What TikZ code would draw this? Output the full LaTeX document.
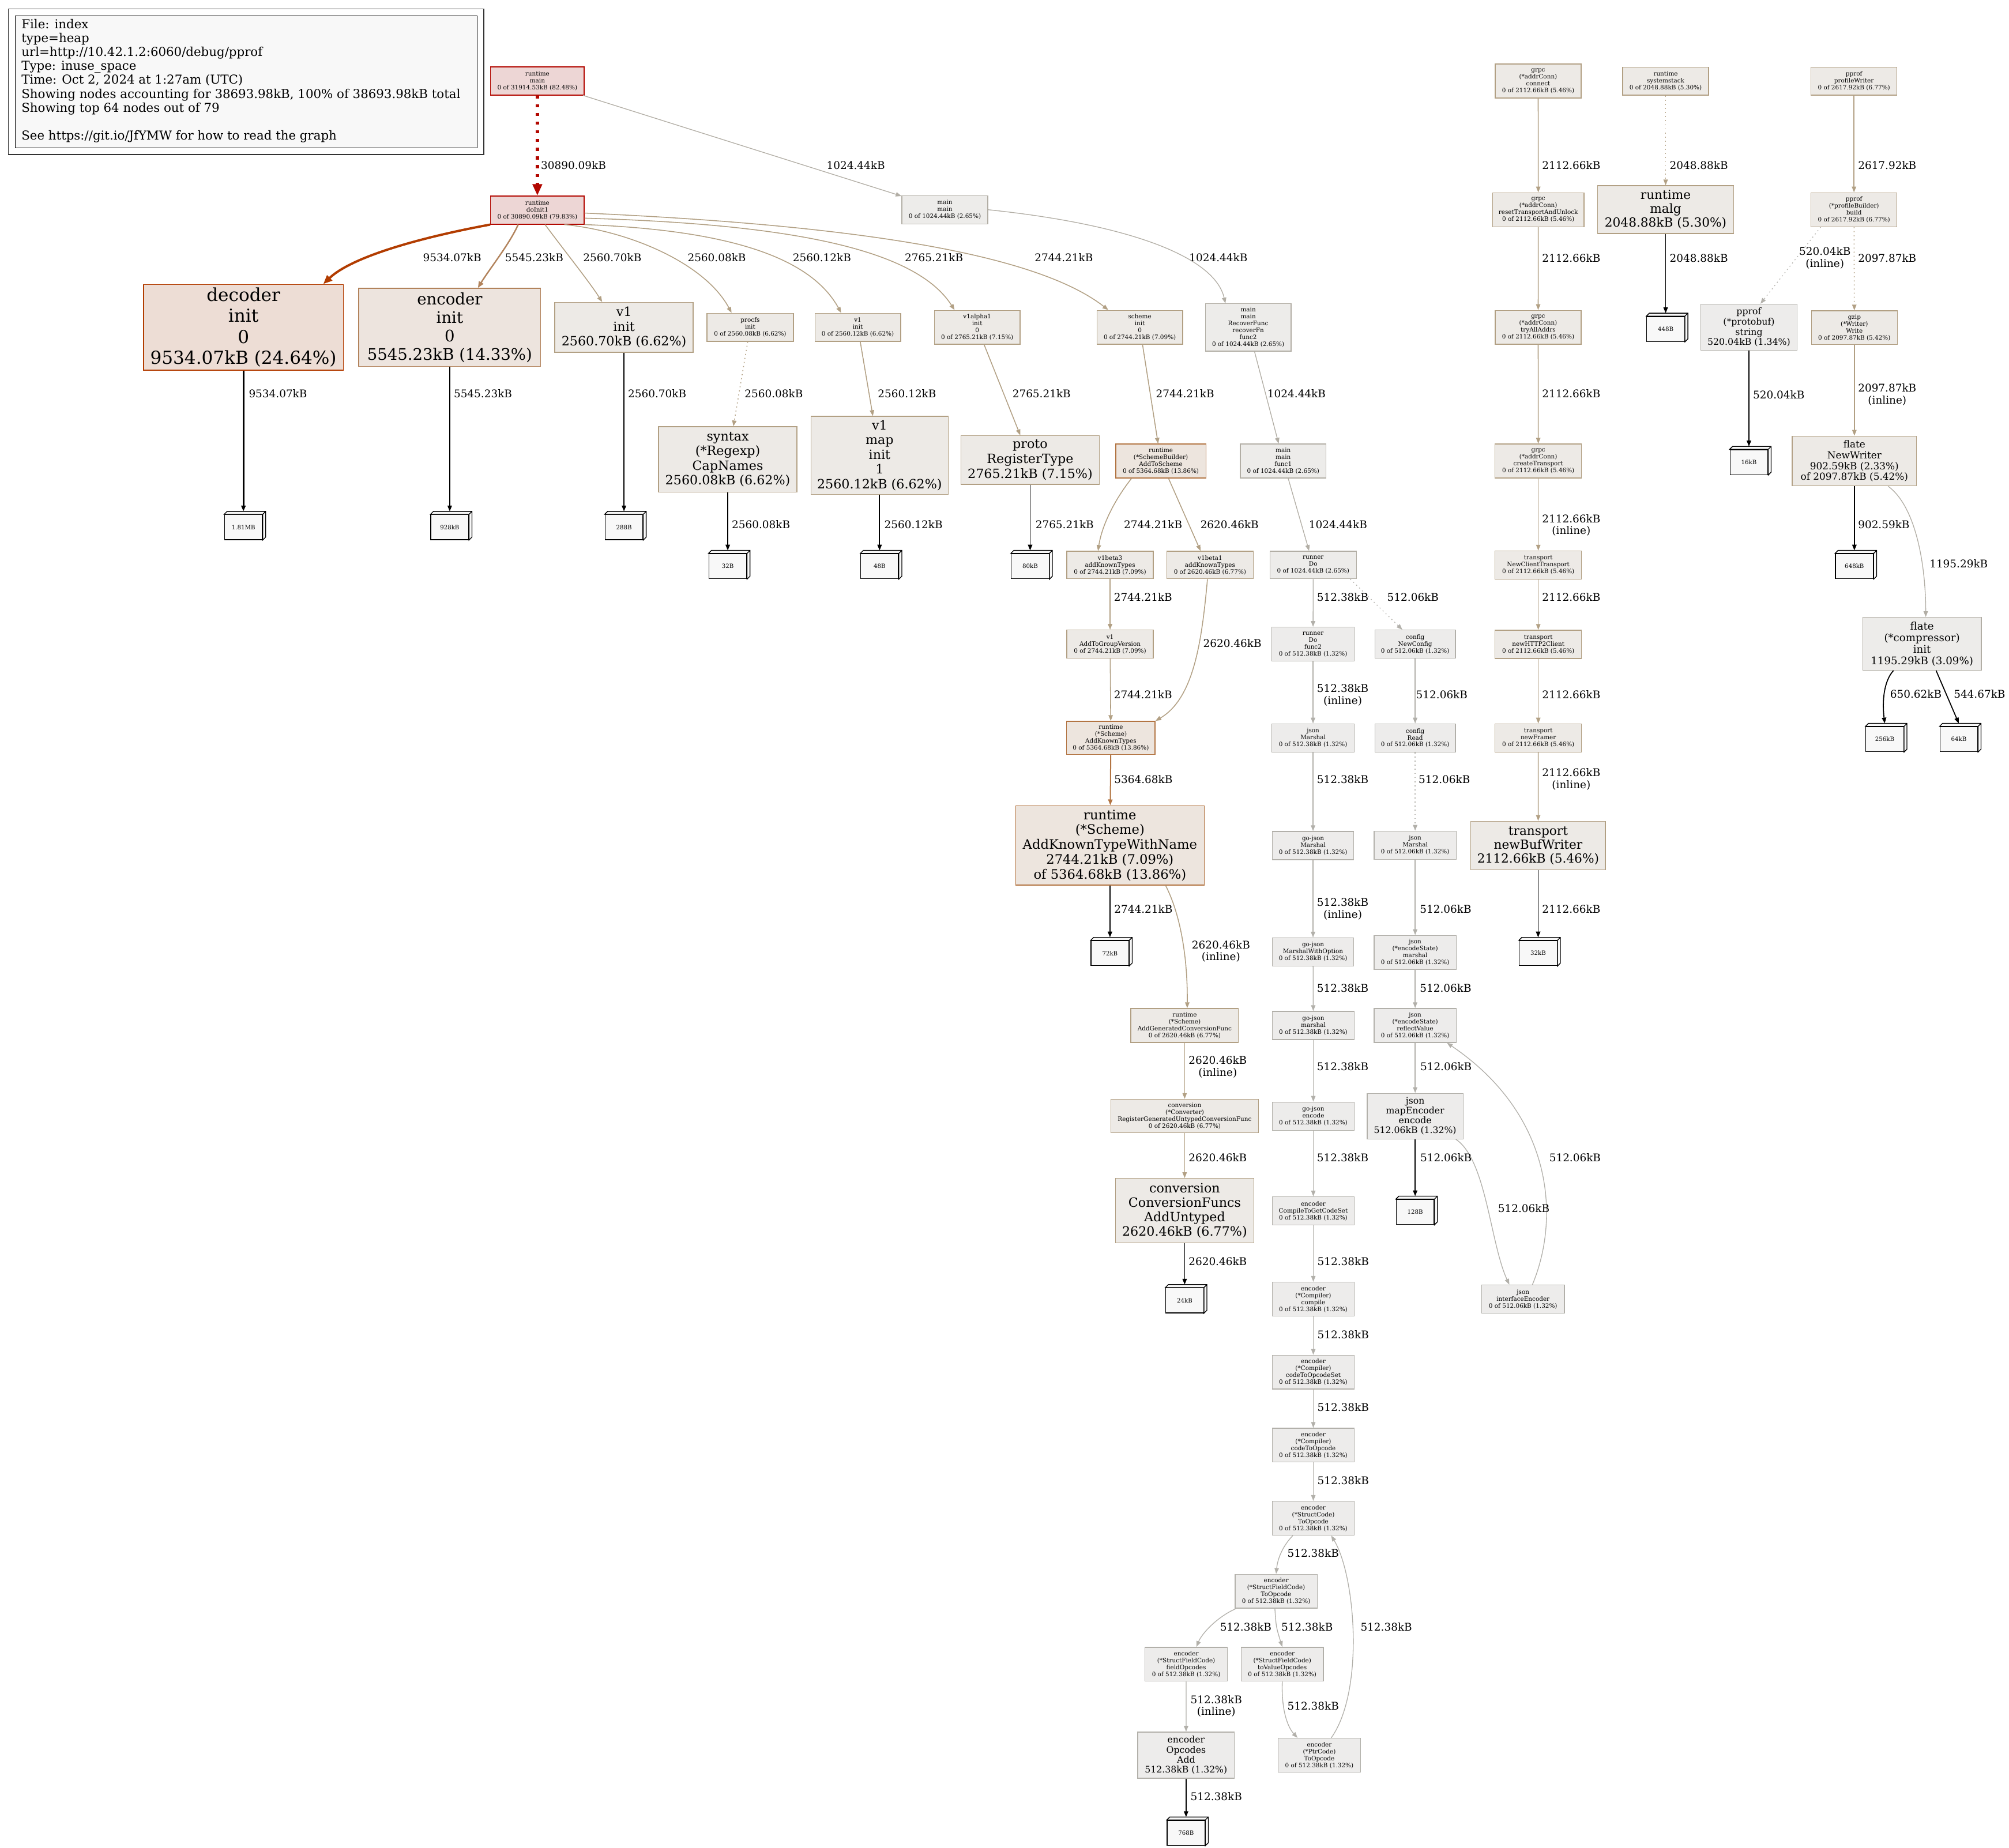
\documentclass[tikz,border=0pt]{standalone}
\usepackage{fontspec}
\setmainfont{DejaVu Serif}
\usepackage{tikz}
\usetikzlibrary{arrows.meta}
\definecolor{redline}{HTML}{B20700}
\definecolor{redfill}{HTML}{EDD6D5}
\definecolor{decline}{HTML}{B23C00}
\definecolor{decfill}{HTML}{EDDDD5}
\definecolor{encline}{HTML}{B2835C}
\definecolor{encfill}{HTML}{EDE4DE}
\definecolor{schline}{HTML}{B27442}
\definecolor{schfill}{HTML}{EDE5DE}
\definecolor{tanline}{HTML}{B2A084}
\definecolor{tanfill}{HTML}{EDEAE6}
\definecolor{lowline}{HTML}{B2AEA5}
\definecolor{lowfill}{HTML}{EDECEA}
\definecolor{grayline}{HTML}{B2B0AA}
\definecolor{grayfill}{HTML}{EDECEB}
\definecolor{leaffill}{HTML}{F8F8F8}
\newcommand{\fsz}[2]{\fontsize{#1}{#2}\selectfont}

\begin{document}
\begin{tikzpicture}[x=1pt, y=-1pt,
  fn/.style={draw, rectangle, align=center, inner sep=0pt, line width=0.6pt},
  sm/.style={fn, font=\fsz{4.7}{5.4}},
  s3/.style={sm, minimum width=67pt, minimum height=22pt},
  s4/.style={sm, minimum width=67pt, minimum height=26.5pt},
  big/.style={fn, font=\fsz{10}{11.5}, minimum width=108pt},
  md/.style={fn, font=\fsz{7.1}{7.9}, minimum width=75pt, minimum height=36pt},
  cred/.style={draw=redline, fill=redfill},
  cdec/.style={draw=decline, fill=decfill},
  cenc/.style={draw=encline, fill=encfill},
  csch/.style={draw=schline, fill=schfill},
  ctan/.style={draw=tanline, fill=tanfill},
  clow/.style={draw=lowline, fill=lowfill},
  cgry/.style={draw=grayline, fill=grayfill},
  leaf/.style={draw, fill=leaffill, line width=0.6pt, minimum width=29.5pt, minimum height=19.5pt, inner sep=0pt, font=\fsz{4.6}{5.4}},
  lbl/.style={anchor=west, align=center, inner sep=0pt, font=\fsz{8.3}{9.3}},
  arr/.style={-{Triangle[length=4.5pt, width=3.4pt]}},
  ered/.style={-{Triangle[length=9pt, width=7.2pt]}, redline, line width=2.4pt, dash pattern=on 2.4pt off 4.4pt},
  edec/.style={-{Triangle[length=7pt, width=5.6pt]}, decline, line width=1.8pt},
  eenc/.style={-{Triangle[length=5pt, width=4pt]}, encline, line width=1.1pt},
  esch/.style={arr, schline, line width=0.9pt},
  etan/.style={arr, tanline, line width=0.7pt},
  elow/.style={arr, lowline, line width=0.6pt},
  egry/.style={arr, grayline, line width=0.6pt},
  eblk/.style={arr, black, line width=0.8pt},
  dotl/.style={dash pattern=on 0.8pt off 2.4pt},
]
  \fill[white] (0,0) rectangle (1568,1442);
  \useasboundingbox (0,0) rectangle (1568,1442);

  % legend
  \node[draw, fill=leaffill, line width=0.6pt, anchor=north west, minimum width=360.5pt, minimum height=103pt, inner sep=0pt] (legend) at (11.5,12) {};
  \draw[line width=0.8pt, black!80] ([shift={(-5pt,5pt)}]legend.north west) rectangle ([shift={(5pt,-5pt)}]legend.south east);
  \node[anchor=north west, align=left, inner sep=0pt, font=\fsz{9.6}{10.9}] (legtext) at (16.6,14.6) {File: index\\type=heap\\url=http://10.42.1.2:6060/debug/pprof\\Type: inuse\_space\\Time: Oct 2, 2024 at 1:27am (UTC)\\Showing nodes accounting for 38693.98kB, 100\% of 38693.98kB total\\Showing top 64 nodes out of 79\\[10.9pt]See https://git.io/JfYMW for how to read the graph};

  % roots
  \node[s3, cred, minimum width=73pt] (rtmain) at (419.4,63.2) {runtime\\main\\0 of 31914.53kB (82.48\%)};
  \node[s3, cred, minimum width=73pt] (doinit) at (419.4,164) {runtime\\doInit1\\0 of 30890.09kB (79.83\%)};
  \node[s3, clow] (mainmain) at (737.4,163.7) {main\\main\\0 of 1024.44kB (2.65\%)};
  \node[s4, ctan] (gconn) at (1200.5,63.2) {grpc\\(*addrConn)\\connect\\0 of 2112.66kB (5.46\%)};
  \node[s3, ctan] (sysstk) at (1300,63.3) {runtime\\systemstack\\0 of 2048.88kB (5.30\%)};
  \node[s3, ctan] (pwriter) at (1447,63.3) {pprof\\profileWriter\\0 of 2617.92kB (6.77\%)};
  \node[s4, ctan, minimum width=71.3pt] (greset) at (1200.6,163.7) {grpc\\(*addrConn)\\resetTransportAndUnlock\\0 of 2112.66kB (5.46\%)};
  \node[fn, ctan, font=\fsz{9.75}{10.8}, minimum width=106pt, minimum height=37.3pt] (malg) at (1300,163.6) {runtime\\malg\\2048.88kB (5.30\%)};
  \node[s4, ctan] (pbuild) at (1447,163.7) {pprof\\(*profileBuilder)\\build\\0 of 2617.92kB (6.77\%)};

  % init row
  \node[fn, cdec, font=\fsz{14}{16.3}, minimum width=156pt, minimum height=67pt] (decinit) at (190,255.5) {decoder\\init\\0\\9534.07kB (24.64\%)};
  \node[fn, cenc, font=\fsz{12.4}{14.4}, minimum width=142pt, minimum height=61pt] (encinit) at (351,255.5) {encoder\\init\\0\\5545.23kB (14.33\%)};
  \node[big, ctan, minimum height=39pt] (vinit) at (487,255.5) {v1\\init\\2560.70kB (6.62\%)};
  \node[s3, ctan, minimum width=67.5pt] (procfs) at (585.5,255.5) {procfs\\init\\0 of 2560.08kB (6.62\%)};
  \node[s3, ctan] (vinitb) at (669.5,255.5) {v1\\init\\0 of 2560.12kB (6.62\%)};
  \node[s4, ctan] (valpha) at (762.7,255.5) {v1alpha1\\init\\0\\0 of 2765.21kB (7.15\%)};
  \node[s4, ctan] (schinit) at (889.6,255.5) {scheme\\init\\0\\0 of 2744.21kB (7.09\%)};
  \node[sm, clow, minimum width=67pt, minimum height=37pt] (recover) at (974.2,255.6) {main\\main\\RecoverFunc\\recoverFn\\func2\\0 of 1024.44kB (2.65\%)};
  \node[s4, ctan] (gtry) at (1200.5,255.5) {grpc\\(*addrConn)\\tryAllAddrs\\0 of 2112.66kB (5.46\%)};
  \node[md, cgry] (pstr) at (1365,255.4) {pprof\\(*protobuf)\\string\\520.04kB (1.34\%)};
  \node[s4, ctan] (gzw) at (1447.3,255.8) {gzip\\(*Writer)\\Write\\0 of 2097.87kB (5.42\%)};

  \node[big, ctan, minimum height=51pt] (capnames) at (568,358.5) {syntax\\(*Regexp)\\CapNames\\2560.08kB (6.62\%)};
  \node[big, ctan, minimum width=107pt, minimum height=61pt] (vmap) at (686.5,355.5) {v1\\map\\init\\1\\2560.12kB (6.62\%)};
  \node[big, ctan, minimum height=38pt] (proto) at (804,359) {proto\\RegisterType\\2765.21kB (7.15\%)};
  \node[s4, csch, minimum width=70.4pt] (sb) at (906,359.8) {runtime\\(*SchemeBuilder)\\AddToScheme\\0 of 5364.68kB (13.86\%)};
  \node[s4, clow] (func1) at (1001.5,359.8) {main\\main\\func1\\0 of 1024.44kB (2.65\%)};
  \node[s4, ctan, minimum width=67.5pt] (gcreate) at (1200.6,359.8) {grpc\\(*addrConn)\\createTransport\\0 of 2112.66kB (5.46\%)};
  \node[fn, ctan, font=\fsz{7.6}{8.5}, minimum width=97pt, minimum height=38.8pt] (flnw) at (1447.3,359.8) {flate\\NewWriter\\902.59kB (2.33\%)\\of 2097.87kB (5.42\%)};

  % scheme and json chains
  \node[s3, ctan, minimum width=67.5pt, minimum height=21.5pt] (v1b3) at (866.4,441) {v1beta3\\addKnownTypes\\0 of 2744.21kB (7.09\%)};
  \node[s3, ctan, minimum width=67.5pt, minimum height=21.5pt] (v1b1) at (944.4,441) {v1beta1\\addKnownTypes\\0 of 2620.46kB (6.77\%)};
  \node[s3, clow, minimum width=67.5pt, minimum height=21.5pt] (runner) at (1024.9,441) {runner\\Do\\0 of 1024.44kB (2.65\%)};
  \node[s3, ctan, minimum width=67.5pt] (tnct) at (1200.6,441) {transport\\NewClientTransport\\0 of 2112.66kB (5.46\%)};
  \node[s3, ctan, minimum width=67.5pt] (agv) at (866.4,502.8) {v1\\AddToGroupVersion\\0 of 2744.21kB (7.09\%)};
  \node[s4, cgry, minimum width=64.5pt] (func2) at (1024.8,502.8) {runner\\Do\\func2\\0 of 512.38kB (1.32\%)};
  \node[s3, cgry, minimum width=63pt] (newcfg) at (1104.5,502.8) {config\\NewConfig\\0 of 512.06kB (1.32\%)};
  \node[s3, ctan, minimum width=67.5pt] (th2c) at (1200.6,502.9) {transport\\newHTTP2Client\\0 of 2112.66kB (5.46\%)};
  \node[fn, clow, font=\fsz{8.2}{9}, minimum width=92.7pt, minimum height=41.2pt] (flci) at (1500.1,502.5) {flate\\(*compressor)\\init\\1195.29kB (3.09\%)};
  \node[s4, csch, minimum width=69pt, minimum height=26pt] (akt) at (867,576) {runtime\\(*Scheme)\\AddKnownTypes\\0 of 5364.68kB (13.86\%)};
  \node[s3, cgry, minimum width=64.5pt] (jmarsh) at (1024.8,576) {json\\Marshal\\0 of 512.38kB (1.32\%)};
  \node[s3, cgry, minimum width=63pt] (cfgread) at (1104.5,576) {config\\Read\\0 of 512.06kB (1.32\%)};
  \node[s3, ctan, minimum width=67.5pt] (tnf) at (1200.6,576) {transport\\newFramer\\0 of 2112.66kB (5.46\%)};
  \node[fn, csch, font=\fsz{10.2}{11.6}, minimum width=147pt, minimum height=62pt] (aktwn) at (866.3,659.8) {runtime\\(*Scheme)\\AddKnownTypeWithName\\2744.21kB (7.09\%)\\of 5364.68kB (13.86\%)};
  \node[s3, cgry, minimum width=63.5pt] (gjmarsh) at (1024.8,660) {go-json\\Marshal\\0 of 512.38kB (1.32\%)};
  \node[s3, cgry, minimum width=64.2pt] (jmarshb) at (1104.5,659.7) {json\\Marshal\\0 of 512.06kB (1.32\%)};
  \node[fn, ctan, font=\fsz{9.75}{10.8}, minimum width=105pt, minimum height=38pt] (tnbw) at (1200.5,660) {transport\\newBufWriter\\2112.66kB (5.46\%)};
  \node[s3, cgry, minimum width=63.5pt] (gjmwo) at (1024.8,743) {go-json\\MarshalWithOption\\0 of 512.38kB (1.32\%)};
  \node[s4, cgry, minimum width=64.2pt] (encst) at (1104.5,743.4) {json\\(*encodeState)\\marshal\\0 of 512.06kB (1.32\%)};
  \node[s4, ctan, minimum width=84pt] (aggcf) at (924.6,800.4) {runtime\\(*Scheme)\\AddGeneratedConversionFunc\\0 of 2620.46kB (6.77\%)};
  \node[s3, cgry, minimum width=64pt] (gjm) at (1025,800.4) {go-json\\marshal\\0 of 512.38kB (1.32\%)};
  \node[s4, cgry, minimum width=64pt] (reflv) at (1104.5,800.4) {json\\(*encodeState)\\reflectValue\\0 of 512.06kB (1.32\%)};
  \node[s4, ctan, minimum width=115pt, minimum height=26pt] (rguc) at (924.6,871) {conversion\\(*Converter)\\RegisterGeneratedUntypedConversionFunc\\0 of 2620.46kB (6.77\%)};
  \node[s3, cgry, minimum width=64pt] (gjenc) at (1025,871.2) {go-json\\encode\\0 of 512.38kB (1.32\%)};
  \node[md, cgry, font=\fsz{7.06}{7.7}, minimum height=35.6pt] (mapenc) at (1104.5,871.2) {json\\mapEncoder\\encode\\512.06kB (1.32\%)};
  \node[fn, ctan, font=\fsz{10}{11.2}, minimum width=108pt, minimum height=50.2pt] (addunt) at (924.6,944.9) {conversion\\ConversionFuncs\\AddUntyped\\2620.46kB (6.77\%)};
  \node[s3, cgry, minimum width=64pt] (ctgcs) at (1025,945.1) {encoder\\CompileToGetCodeSet\\0 of 512.38kB (1.32\%)};
  \node[s4, cgry, minimum width=64pt] (compile) at (1025,1014) {encoder\\(*Compiler)\\compile\\0 of 512.38kB (1.32\%)};
  \node[s3, cgry, minimum width=64.6pt] (ifenc) at (1188.7,1014) {json\\interfaceEncoder\\0 of 512.06kB (1.32\%)};
  \node[s4, cgry, minimum width=64pt] (ctos) at (1025,1071) {encoder\\(*Compiler)\\codeToOpcodeSet\\0 of 512.38kB (1.32\%)};
  \node[s4, cgry, minimum width=64pt] (cto) at (1025,1128) {encoder\\(*Compiler)\\codeToOpcode\\0 of 512.38kB (1.32\%)};
  \node[s4, cgry, minimum width=64pt] (sct) at (1025,1185) {encoder\\(*StructCode)\\ToOpcode\\0 of 512.38kB (1.32\%)};
  \node[s4, cgry, minimum width=64pt] (sfct) at (996,1242) {encoder\\(*StructFieldCode)\\ToOpcode\\0 of 512.38kB (1.32\%)};
  \node[s4, cgry, minimum width=64.2pt] (fop) at (925.8,1299) {encoder\\(*StructFieldCode)\\fieldOpcodes\\0 of 512.38kB (1.32\%)};
  \node[s4, cgry, minimum width=64pt] (tvo) at (1000.8,1299) {encoder\\(*StructFieldCode)\\toValueOpcodes\\0 of 512.38kB (1.32\%)};
  \node[md, cgry, font=\fsz{7.05}{7.7}, minimum width=75.4pt] (opadd) at (925.7,1369.9) {encoder\\Opcodes\\Add\\512.38kB (1.32\%)};
  \node[s4, cgry, minimum width=64.2pt] (ptr) at (1029.7,1370) {encoder\\(*PtrCode)\\ToOpcode\\0 of 512.38kB (1.32\%)};

  % allocation boxes
  \node[leaf] (b181) at (190,411.5) {1.81MB};
  \node[leaf] (b928) at (351,411.5) {928kB};
  \node[leaf] (b288) at (487,411.5) {288B};
  \node[leaf] (b32) at (568,442) {32B};
  \node[leaf] (b48) at (686.5,442) {48B};
  \node[leaf] (b80) at (804,442) {80kB};
  \node[leaf] (b72) at (866.3,744) {72kB};
  \node[leaf] (b24) at (924.6,1015) {24kB};
  \node[leaf] (b128) at (1104.5,946) {128B};
  \node[leaf] (b768) at (925.7,1430.6) {768B};
  \node[leaf] (b448) at (1300,256.8) {448B};
  \node[leaf] (b16) at (1365,360.8) {16kB};
  \node[leaf] (b648) at (1447.3,442) {648kB};
  \node[leaf] (b256) at (1471,577) {256kB};
  \node[leaf] (b64) at (1528.8,577) {64kB};
  \node[leaf] (b32k) at (1200.5,744) {32kB};
  \foreach \b in {b181,b928,b288,b32,b48,b80,b72,b24,b128,b768,b448,b16,b648,b256,b64,b32k}
    \draw[line width=0.6pt, fill=leaffill] (\b.north west) -- ++(2.3pt,2.3pt) -| ([shift={(2.3pt,2.3pt)}]\b.south east) -- (\b.south east) -- (\b.north east) -- cycle (\b.north east) -- ++(2.3pt,2.3pt);

  % calls from runtime
  \draw[ered] (rtmain) -- (doinit);
  \draw[elow] (rtmain) -- (mainmain);
  \draw[edec] (doinit.south west) .. controls (330,185) and (275,200) .. ([xshift=-16pt]decinit.north east);
  \draw[eenc] ([xshift=-15pt]doinit.south) .. controls (398,190) and (382,210) .. ([xshift=22pt]encinit.north);
  \draw[etan] ([xshift=6pt]doinit.south) .. controls (440,195) and (460,220) .. ([xshift=-17pt]vinit.north);
  \draw[etan] ([xshift=21pt]doinit.south) .. controls (490,180) and (550,205) .. ([xshift=-14.5pt]procfs.north);
  \draw[etan] (doinit.south east) .. controls (580,180) and (635,205) .. ([xshift=-13pt]vinitb.north);
  \draw[etan] ([yshift=5pt]doinit.south east) .. controls (620,175) and (715,195) .. ([xshift=-17.7pt]valpha.north);
  \draw[etan] ([yshift=9pt]doinit.south east) .. controls (650,175) and (805,195) .. ([xshift=-24.6pt]schinit.north);
  \draw[elow] (mainmain.east) .. controls (880,175) and (948,200) .. ([xshift=-17.8pt]recover.north);

  % init chains
  \draw[eblk, line width=1.3pt] (decinit) -- ([yshift=2.3pt]b181.north);
  \draw[eblk] (encinit) -- ([yshift=2.3pt]b928.north);
  \draw[eblk] (vinit) -- ([yshift=2.3pt]b288.north);
  \draw[etan, dotl] (procfs) -- (capnames);
  \draw[etan] (vinitb) -- (vmap);
  \draw[etan] (valpha) -- (proto);
  \draw[etan] (schinit) -- (sb);
  \draw[elow] (recover) -- (func1);
  \draw[eblk] (capnames) -- ([yshift=2.3pt]b32.north);
  \draw[eblk] (vmap) -- ([yshift=2.3pt]b48.north);
  \draw[eblk] (proto) -- ([yshift=2.3pt]b80.north);
  \draw[etan] ([xshift=-22.8pt]sb.south) .. controls (870,390) and (860,410) .. ([xshift=-9.4pt]v1b3.north);
  \draw[etan] ([xshift=6pt]sb.south) -- ([xshift=-7.4pt]v1b1.north);
  \draw[elow] (func1) -- (runner);
  \draw[etan] (v1b3) -- (agv);
  \draw[etan] (agv) -- (akt);
  \draw[etan] ([xshift=-2pt]v1b1.south) .. controls (938,500) and (932,545) .. (akt.north east);
  \draw[egry] (runner) -- (func2);
  \draw[egry, dotl] ([xshift=29pt]runner.south) -- ([xshift=-10pt]newcfg.north);
  \draw[egry] (func2) -- (jmarsh);
  \draw[egry] (newcfg) -- (cfgread);
  \draw[esch] (akt) -- (aktwn);
  \draw[egry] (jmarsh) -- (gjmarsh);
  \draw[egry, dotl] (cfgread) -- (jmarshb);
  \draw[eblk] (aktwn) -- ([yshift=2.3pt]b72.north);
  \draw[etan] ([xshift=43.4pt]aktwn.south) .. controls (922,715) and (927,750) .. ([xshift=2pt]aggcf.north);
  \draw[egry] (gjmarsh) -- (gjmwo);
  \draw[egry] (jmarshb) -- (encst);
  \draw[egry] (gjmwo) -- (gjm);
  \draw[egry] (encst) -- (reflv);
  \draw[etan] (aggcf) -- (rguc);
  \draw[egry] (gjm) -- (gjenc);
  \draw[egry] (reflv) -- (mapenc);
  \draw[etan] (rguc) -- (addunt);
  \draw[egry] (gjenc) -- (ctgcs);
  \draw[eblk] (mapenc) -- ([yshift=2.3pt]b128.north);
  \draw[egry] ([xshift=-6pt]mapenc.south east) .. controls (1160,905) and (1163,970) .. ([xshift=-10.7pt]ifenc.north);
  \draw[egry] ([xshift=7.3pt]ifenc.north) .. controls (1218,950) and (1212,870) .. ([xshift=-7.5pt]reflv.south east);
  \draw[eblk] (addunt) -- ([yshift=2.3pt]b24.north);
  \draw[egry] (ctgcs) -- (compile);
  \draw[egry] (compile) -- (ctos);
  \draw[egry] (ctos) -- (cto);
  \draw[egry] (cto) -- (sct);
  \draw[egry] ([xshift=-16pt]sct.south) .. controls (1000,1208) and (997,1218) .. (sfct.north);
  \draw[egry] ([xshift=1pt]sfct.south west) .. controls (950,1262) and (938,1275) .. ([xshift=8pt]fop.north);
  \draw[egry] ([xshift=-1pt]sfct.south) .. controls (996,1270) .. (tvo.north);
  \draw[egry] (fop) -- (opadd);
  \draw[egry] (tvo.south) .. controls (1000,1335) and (1005,1348) .. ([xshift=-17pt]ptr.north);
  \draw[egry] ([xshift=9.3pt]ptr.north) .. controls (1065,1320) and (1058,1230) .. ([xshift=14pt]sct.south);
  \draw[eblk] (opadd) -- ([yshift=2.3pt]b768.north);

  % grpc, malg and pprof chains
  \draw[etan] (gconn) -- (greset);
  \draw[etan] (greset) -- (gtry);
  \draw[etan] (gtry) -- (gcreate);
  \draw[etan] (gcreate) -- (tnct);
  \draw[etan] (tnct) -- (th2c);
  \draw[etan] (th2c) -- (tnf);
  \draw[etan] (tnf) -- (tnbw);
  \draw[eblk] (tnbw) -- ([yshift=2.3pt]b32k.north);
  \draw[etan, dotl] (sysstk) -- (malg);
  \draw[eblk] (malg) -- ([yshift=2.3pt]b448.north);
  \draw[etan] (pwriter) -- (pbuild);
  \draw[egry, dotl] ([xshift=-26pt]pbuild.south) -- ([xshift=9pt]pstr.north);
  \draw[etan, dotl] (pbuild) -- (gzw);
  \draw[eblk] (pstr) -- ([yshift=2.3pt]b16.north);
  \draw[etan] (gzw) -- (flnw);
  \draw[eblk] (flnw) -- ([yshift=2.3pt]b648.north);
  \draw[elow] ([xshift=26.3pt]flnw.south) .. controls (1495,395) and (1503,440) .. ([xshift=2.9pt]flci.north);
  \draw[eblk] ([xshift=-22.3pt]flci.south) .. controls (1470,532) and (1469,548) .. ([yshift=2.3pt]b256.north);
  \draw[eblk] ([xshift=11pt]flci.south) -- ([yshift=2.3pt]b64.north);

  % edge labels
  \node[lbl] (l1) at (422,129) {30890.09kB};
  \node[lbl] (l2) at (645,129) {1024.44kB};
  \node[lbl] (l3) at (330,201) {9534.07kB};
  \node[lbl] (l4) at (394,201) {5545.23kB};
  \node[lbl] (l5) at (455,201) {2560.70kB};
  \node[lbl] (l6) at (536.5,201) {2560.08kB};
  \node[lbl] (l7) at (618.6,201) {2560.12kB};
  \node[lbl] (l8) at (706,201) {2765.21kB};
  \node[lbl] (l9) at (807.4,201) {2744.21kB};
  \node[lbl] (l10) at (928,201) {1024.44kB};
  \node[lbl] (l11) at (194,307) {9534.07kB};
  \node[lbl] (l12) at (354,307) {5545.23kB};
  \node[lbl] (l13) at (490,307) {2560.70kB};
  \node[lbl] (l14) at (581,307) {2560.08kB};
  \node[lbl] (l15) at (685,307) {2560.12kB};
  \node[lbl] (l16) at (790,307) {2765.21kB};
  \node[lbl] (l17) at (902,307) {2744.21kB};
  \node[lbl] (l18) at (989,307) {1024.44kB};
  \node[lbl] (l19) at (571,409.5) {2560.08kB};
  \node[lbl] (l20) at (690,409.5) {2560.12kB};
  \node[lbl] (l21) at (808,409.5) {2765.21kB};
  \node[lbl] (l22) at (877,409.5) {2744.21kB};
  \node[lbl] (l23) at (936.7,409.5) {2620.46kB};
  \node[lbl] (l24) at (1021.4,409.5) {1024.44kB};
  \node[lbl] (l25) at (869.2,466) {2744.21kB};
  \node[lbl] (l26) at (1027.7,466) {512.38kB};
  \node[lbl] (l27) at (1082.5,466) {512.06kB};
  \node[lbl] (l28) at (938.9,502) {2620.46kB};
  \node[lbl] (l29) at (869.2,542) {2744.21kB};
  \node[lbl] (l30) at (1027.7,542.5) {512.38kB\\(inline)};
  \node[lbl] (l31) at (1105,542) {512.06kB};
  \node[lbl] (l32) at (869.5,608.3) {5364.68kB};
  \node[lbl] (l33) at (1027.7,608.3) {512.38kB};
  \node[lbl] (l34) at (1107,608.3) {512.06kB};
  \node[lbl] (l35) at (869.5,709.6) {2744.21kB};
  \node[lbl] (l36) at (930,742.5) {2620.46kB\\(inline)};
  \node[lbl] (l37) at (1027.7,709.5) {512.38kB\\(inline)};
  \node[lbl] (l38) at (1108,709.6) {512.06kB};
  \node[lbl] (l39) at (1027.7,771) {512.38kB};
  \node[lbl] (l40) at (1108,771) {512.06kB};
  \node[lbl] (l41) at (927.5,832.8) {2620.46kB\\(inline)};
  \node[lbl] (l42) at (1027.7,832.6) {512.38kB};
  \node[lbl] (l43) at (1108.3,832.6) {512.06kB};
  \node[lbl] (l44) at (927.5,903.7) {2620.46kB};
  \node[lbl] (l45) at (1027.7,903.7) {512.38kB};
  \node[lbl] (l46) at (1108.3,903.7) {512.06kB};
  \node[lbl] (l47) at (1169,943) {512.06kB};
  \node[lbl] (l48) at (1209,903.7) {512.06kB};
  \node[lbl] (l49) at (927.5,984.7) {2620.46kB};
  \node[lbl] (l50) at (1028,984.7) {512.38kB};
  \node[lbl] (l51) at (1028,1041.7) {512.38kB};
  \node[lbl] (l52) at (1028,1098.5) {512.38kB};
  \node[lbl] (l53) at (1028,1155.7) {512.38kB};
  \node[lbl] (l54) at (1004.6,1212.2) {512.38kB};
  \node[lbl] (l55) at (952,1269.7) {512.38kB};
  \node[lbl] (l56) at (999.9,1269.7) {512.38kB};
  \node[lbl] (l57) at (1061.7,1269.7) {512.38kB};
  \node[lbl] (l58) at (929,1331.7) {512.38kB\\(inline)};
  \node[lbl] (l59) at (1004.6,1331.4) {512.38kB};
  \node[lbl] (l60) at (929,1402.4) {512.38kB};
  \node[lbl] (l61) at (1203.4,129) {2112.66kB};
  \node[lbl] (l62) at (1303,129) {2048.88kB};
  \node[lbl] (l63) at (1450,129) {2617.92kB};
  \node[lbl] (l64) at (1203.4,201.3) {2112.66kB};
  \node[lbl] (l65) at (1303,201.3) {2048.88kB};
  \node[lbl] (l66) at (1404,201.5) {520.04kB\\(inline)};
  \node[lbl] (l67) at (1450,201.3) {2097.87kB};
  \node[lbl] (l68) at (1203.4,307) {2112.66kB};
  \node[lbl] (l69) at (1368,308) {520.04kB};
  \node[lbl] (l70) at (1450,308) {2097.87kB\\(inline)};
  \node[lbl] (l71) at (1203.4,410) {2112.66kB\\(inline)};
  \node[lbl] (l72) at (1450,409.2) {902.59kB};
  \node[lbl] (l73) at (1505.8,440) {1195.29kB};
  \node[lbl] (l74) at (1203.4,466) {2112.66kB};
  \node[lbl] (l75) at (1203.4,542) {2112.66kB};
  \node[lbl] (l76) at (1475,541.6) {650.62kB};
  \node[lbl] (l77) at (1524.7,541.6) {544.67kB};
  \node[lbl] (l78) at (1203.4,608.3) {2112.66kB\\(inline)};
  \node[lbl] (l79) at (1203.4,709.6) {2112.66kB};
\end{tikzpicture}
\end{document}
